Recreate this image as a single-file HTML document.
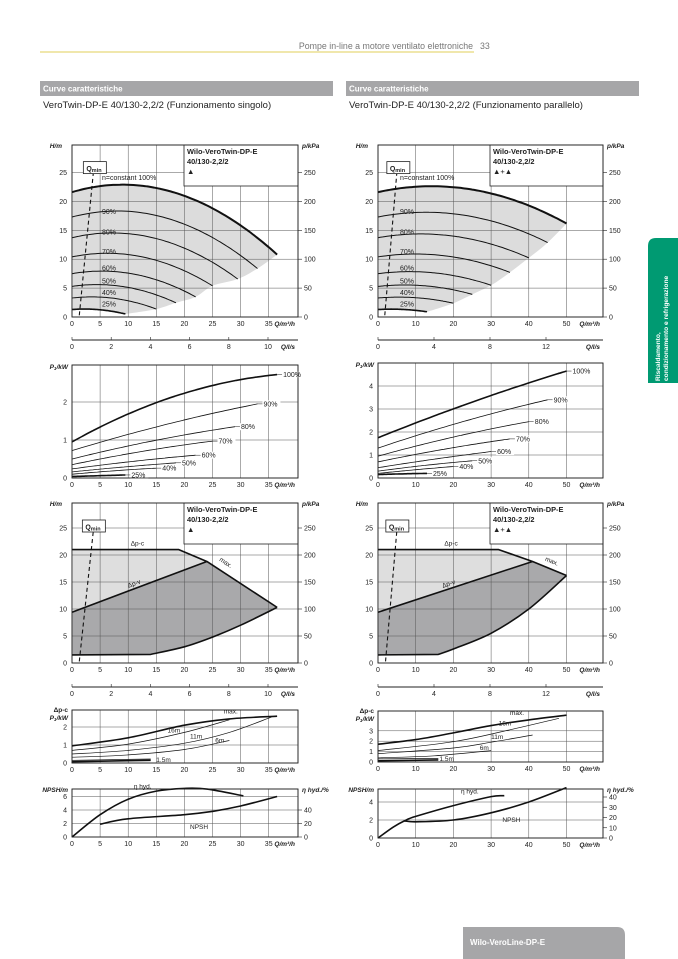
<!DOCTYPE html>
<html><head><meta charset="utf-8"><style>
html,body{margin:0;padding:0;background:#fff;width:678px;height:959px;overflow:hidden}
svg{position:absolute;left:0;top:0}
text{font-family:"Liberation Sans",sans-serif}
</style></head><body>
<svg id="s" width="678" height="959" viewBox="0 0 678 959" xmlns="http://www.w3.org/2000/svg">
<line x1="40" y1="52" x2="474" y2="52" stroke="#e2cf5a" stroke-width="1"/>
<text x="473" y="49" font-size="8.8" fill="#777" text-anchor="end">Pompe in-line a motore ventilato elettroniche</text>
<text x="480" y="49" font-size="8.8" fill="#777">33</text>
<rect x="40" y="81" width="293" height="15" fill="#a6a6a8"/>
<rect x="346" y="81" width="293" height="15" fill="#a6a6a8"/>
<text x="43" y="91.5" font-size="8" font-weight="bold" fill="#fff">Curve caratteristiche</text>
<text x="349" y="91.5" font-size="8" font-weight="bold" fill="#fff">Curve caratteristiche</text>
<text x="43" y="108" font-size="9.5" fill="#222">VeroTwin-DP-E 40/130-2,2/2 (Funzionamento singolo)</text>
<text x="349" y="108" font-size="9.5" fill="#222">VeroTwin-DP-E 40/130-2,2/2 (Funzionamento parallelo)</text>
<path d="M648 246 Q648 238 656 238 L678 238 L678 383 L648 383 Z" fill="#009a72"/>
<text transform="translate(660,381) rotate(-90)" font-size="6.6" font-weight="bold" fill="#fff">Riscaldamento,</text>
<text transform="translate(668,381) rotate(-90)" font-size="6.6" font-weight="bold" fill="#fff">condizionamento e refrigerazione</text>
<path d="M463 927 L617 927 Q625 927 625 935 L625 959 L463 959 Z" fill="#a6a6a8"/>
<text x="470" y="945" font-size="8" font-weight="bold" fill="#fff">Wilo-VeroLine-DP-E</text>
<g id="g"></g>
</svg>
<script>
var out='';
function add(s){out+=s;}
function cr(pts){
 if(pts.length<3){return 'M'+pts.map(p=>p[0].toFixed(1)+' '+p[1].toFixed(1)).join(' L');}
 var d='M'+pts[0][0].toFixed(1)+' '+pts[0][1].toFixed(1);
 for(var i=0;i<pts.length-1;i++){var p0=pts[i-1]||pts[i],p1=pts[i],p2=pts[i+1],p3=pts[i+2]||p2;
  d+=' C'+(p1[0]+(p2[0]-p0[0])/6).toFixed(1)+' '+(p1[1]+(p2[1]-p0[1])/6).toFixed(1)+' '+(p2[0]-(p3[0]-p1[0])/6).toFixed(1)+' '+(p2[1]-(p3[1]-p1[1])/6).toFixed(1)+' '+p2[0].toFixed(1)+' '+p2[1].toFixed(1);}
 return d;}
function T(x,y,s,o){o=o||{};add('<text x="'+x+'" y="'+y+'" font-size="'+(o.fs||7)+'"'+(o.a?' text-anchor="'+o.a+'"':'')+(o.b?' font-weight="bold"':'')+(o.i?' font-style="italic"':'')+' fill="#222">'+s+'</text>');}
function L(x1,y1,x2,y2,w,c,da){add('<line x1="'+x1+'" y1="'+y1+'" x2="'+x2+'" y2="'+y2+'" stroke="'+(c||'#222')+'" stroke-width="'+(w||0.6)+'"'+(da?' stroke-dasharray="'+da+'"':'')+'/>');}
function P(d,w,fill,c,da){add('<path d="'+d+'" fill="'+(fill||'none')+'" stroke="'+(c||'#111')+'" stroke-width="'+(w||0.8)+'"'+(da?' stroke-dasharray="'+da+'"':'')+' stroke-linejoin="round"/>');}
function frame(o){
 var X=q=>o.x0+q*o.sx, Y=v=>o.y0-v*o.sy;
 add('<rect x="'+o.x0+'" y="'+o.top+'" width="'+(o.xr-o.x0)+'" height="'+(o.y0-o.top)+'" fill="#fff" stroke="#222" stroke-width="0.8"/>');
 return {X:X,Y:Y};
}
function grid(o,f){
 o.xt.forEach(q=>{if(q>0)L(f.X(q),o.top,f.X(q),o.y0,0.5,'#555');});
 o.yt.forEach(v=>{if(v>0)L(o.x0,f.Y(v),o.xr,f.Y(v),0.5,'#555');});
}
function axes(o,f){
 add('<rect x="'+o.x0+'" y="'+o.top+'" width="'+(o.xr-o.x0)+'" height="'+(o.y0-o.top)+'" fill="none" stroke="#222" stroke-width="0.8"/>');
 o.xt.forEach(q=>T(f.X(q),o.y0+9,q,{a:'middle'}));
 o.yt.forEach(v=>T(o.x0-5,f.Y(v)+2.5,v,{a:'end'}));
 T(o.xr-3,o.y0+9,'Q/m³/h',{a:'end',b:1,i:1,fs:6.5});
}
function rightAxis(o,vals,Yr){
 vals.forEach(v=>{L(o.xr,Yr(v),o.xr+4,Yr(v),0.6);T(o.xr+6,Yr(v)+2.5,v);});
}
function H(a,b,c,s,q,m){return a*s*s+b*s*(q/m)-c*(q/m)*(q/m);}
function pumpChart(o){
 var f=frame(o);
 var sp=o.sp, ends=o.ends, m=o.m;
 var top=[];for(var i=0;i<=30;i++){var q=ends[0]*i/30;top.push([f.X(q),f.Y(H(21.6,0.288,o.c,1,q,m))]);}
 var lo=[];for(var k=0;k<sp.length;k++){lo.push([f.X(ends[k]),f.Y(H(21.6,0.288,o.c,sp[k],ends[k],m))]);}
 lo.reverse();
 var last=sp.length-1, bot=[];for(var i=10;i>=0;i--){var q=ends[last]*i/10;bot.push([f.X(q),f.Y(H(21.6,0.288,o.c,sp[last],q,m))]);}
 var d=cr(top)+' L'+cr(lo).slice(1)+' L'+cr(bot).slice(1)+' Z';
 add('<path d="'+d+'" fill="#dcdcdc" stroke="none"/>');
 grid(o,f);
 add('<rect x="'+o.lb+'" y="'+o.top+'" width="'+(o.xr-o.lb)+'" height="41" fill="#fff" stroke="#222" stroke-width="0.8"/>');
 T(o.lb+3,o.top+9,'Wilo-VeroTwin-DP-E',{b:1,fs:7.4});T(o.lb+3,o.top+19,'40/130-2,2/2',{b:1,fs:7.4});
 T(o.lb+3,o.top+29,o.sym,{fs:7.5});
 var labs=['90%','80%','70%','60%','50%','40%','25%'];
 sp.forEach((s,k)=>{var pts=[];for(var i=0;i<=30;i++){var q=ends[k]*i/30;pts.push([f.X(q),f.Y(H(21.6,0.288,o.c,s,q,m))]);}
  P(cr(pts),k==0?2:(k==sp.length-1?1.6:1.0));
  if(k>0){var y=f.Y(H(21.6,0.288,o.c,s,0,m));T(o.x0+o.lx,y-3,labs[k-1]);}
 });
 T(o.x0+o.lx,f.Y(22.8)-5,'n=constant 100%');
 L(f.X(o.qm[0]),f.Y(0.3),f.X(o.qm[1]),f.Y(25),1.1,'#111','4,3');
 add('<rect x="'+(f.X(o.qm[1])-10)+'" y="'+(f.Y(25.5)-8)+'" width="23" height="12" fill="#fff" stroke="#222" stroke-width="0.8"/>');
 T(f.X(o.qm[1])-7,f.Y(25.5)+1.5,'Q<tspan font-size="5.5" dy="1">min</tspan>',{b:1,fs:7});
 axes(o,f);
 rightAxis(o,[0,50,100,150,200,250],v=>f.Y(v/10));
 T(o.x0-10,o.top+3,'H/m',{a:'end',b:1,i:1,fs:6.5});T(o.xr+4,o.top+3,'p/kPa',{b:1,i:1,fs:6.5});
 return f;
}
function lsAxis(o,y,vals,scale,lab){
 L(o.x0,y,o.xr,y,0.9);
 vals.forEach(v=>{var x=o.x0+v*scale;L(x,y-3,x,y,0.6);T(x,y+9,v,{a:'middle'});});
 T(o.xr-3,y+9,'Q/l/s',{a:'end',b:1,i:1,fs:6.5});
}
function q3(p0,pm,p1,qe){return function(q){var t=q/qe;return p0*(1-t)*(1-2*t)+pm*4*t*(1-t)+p1*t*(2*t-1);};}
function powChart(o,cs){
 var f=frame(o);grid(o,f);
 cs.forEach((c,k)=>{var fn=q3(c[0],c[1],c[2],c[3]),pts=[];for(var i=0;i<=20;i++){var q=c[3]*i/20;pts.push([f.X(q),f.Y(fn(q))]);}
  P(cr(pts),k==0?1.6:(k==cs.length-1?1.6:0.8));
  var ex=f.X(c[3]),ey=f.Y(c[2]);L(ex,ey,ex+5,ey,0.5);add('<rect x="'+(ex+5)+'" y="'+(ey-3.5)+'" width="18" height="7" fill="#fff"/>');T(ex+6,ey+2.5,c[4]);});
 axes(o,f);
 T(o.x0-4,o.top+4,'P<tspan font-size="4.5" dy="1">1</tspan><tspan dy="-1">/kW</tspan>',{a:'end',b:1,i:1,fs:6.5});
}
function regChart(o,r){
 var f=frame(o);
 var pt=a=>[f.X(a[0]),f.Y(a[1])];
 var light=[[0,21],[r.c,21],[r.m,18.8],[0,9.4]].map(pt);
 add('<path d="M'+light.map(p=>p.join(' ')).join(' L')+' Z" fill="#dedede"/>');
 var lower=r.lo.map(pt);
 var dark='M'+pt([0,9.4]).join(' ')+' L'+pt([r.m,18.8]).join(' ')+' L'+pt([r.e,r.eh]).join(' ')+' L'+cr(lower.slice().reverse()).slice(1)+' L'+pt([0,1.5]).join(' ')+' Z';
 add('<path d="'+dark+'" fill="#a9a9ab"/>');
 grid(o,f);
 add('<rect x="'+o.lb+'" y="'+o.top+'" width="'+(o.xr-o.lb)+'" height="41" fill="#fff" stroke="#222" stroke-width="0.8"/>');
 T(o.lb+3,o.top+9,'Wilo-VeroTwin-DP-E',{b:1,fs:7.4});T(o.lb+3,o.top+19,'40/130-2,2/2',{b:1,fs:7.4});T(o.lb+3,o.top+29,o.sym,{fs:7.5});
 P('M'+[[0,21],[r.c,21],[r.m,18.8],[r.e,r.eh]].map(pt).map(p=>p.join(' ')).join(' L'),1.6);
 P('M'+[[0,9.4],[r.m,18.8]].map(pt).map(p=>p.join(' ')).join(' L'),1.6);
 P('M'+pt([0,1.5]).join(' ')+' L'+cr(lower).slice(1),1.6);
 T(f.X(r.c*0.55),f.Y(21)-4,'Δp-c',{fs:6.5});
 var a=Math.atan2(f.Y(18.8)-f.Y(9.4),f.X(r.m)-f.X(0))*180/Math.PI;
 add('<text transform="translate('+f.X(r.m*0.42)+','+(f.Y(9.4+9.4*0.42)-3)+') rotate('+a.toFixed(1)+')" font-size="6.5" fill="#222">Δp-v</text>');
 var b=Math.atan2(f.Y(r.eh)-f.Y(18.8),f.X(r.e)-f.X(r.m))*180/Math.PI;
 add('<text transform="translate('+(f.X(r.m)+12)+','+(f.Y(18.8)-1)+') rotate('+b.toFixed(1)+')" font-size="6.5" fill="#222">max.</text>');
 L(f.X(r.qm[0]),f.Y(0.3),f.X(r.qm[1]),f.Y(24.5),1.1,'#111','4,3');
 add('<rect x="'+(f.X(r.qm[1])-11)+'" y="'+(f.Y(25)-8)+'" width="23" height="12" fill="#fff" stroke="#222" stroke-width="0.8"/>');
 T(f.X(r.qm[1])-8,f.Y(25)+1.5,'Q<tspan font-size="5.5" dy="1">min</tspan>',{b:1,fs:7});
 axes(o,f);
 rightAxis(o,[0,50,100,150,200,250],v=>f.Y(v/10));
 T(o.x0-10,o.top+3,'H/m',{a:'end',b:1,i:1,fs:6.5});T(o.xr+4,o.top+3,'p/kPa',{b:1,i:1,fs:6.5});
}
function dpChart(o,cs){
 var f=frame(o);grid(o,f);
 cs.forEach(c=>{P(cr(c.p.map(a=>[f.X(a[0]),f.Y(a[1])])),c.w);
  if(c.l){T(f.X(c.l[0]),f.Y(c.l[1]),c.t,{fs:6.5});}});
 axes(o,f);
 T(o.x0-4,o.top+2,'Δp-c',{a:'end',b:1,fs:6.5});
 T(o.x0-4,o.top+10,'P<tspan font-size="4.5" dy="1">1</tspan><tspan dy="-1">/kW</tspan>',{a:'end',b:1,i:1,fs:6.5});
}
function npChart(o,eta,np,etaVals,Ye,ex,nx){
 var f=frame(o);grid(o,f);
 P(cr(eta.map(a=>[f.X(a[0]),f.Y(a[1])])),1.6);
 P(cr(np.map(a=>[f.X(a[0]),f.Y(a[1])])),1.6);
 T(f.X(ex[0]),f.Y(ex[1]),'η hyd.',{fs:6.5});T(f.X(nx[0]),f.Y(nx[1]),'NPSH',{fs:6.5});
 axes(o,f);
 etaVals.forEach(v=>{L(o.xr,Ye(v),o.xr+4,Ye(v),0.6);T(o.xr+6,Ye(v)+2.5,v);});
 T(o.x0-4,o.top+3,'NPSH/m',{a:'end',b:1,i:1,fs:6.5});
 T(o.xr+4,o.top+3,'η hyd./%',{b:1,i:1,fs:6.5});
}
var sp=[1,0.895,0.797,0.694,0.589,0.495,0.39,0.245];
var L1={x0:72,xr:298,sx:5.62,top:145,y0:317,sy:5.78,xt:[0,5,10,15,20,25,30,35],yt:[0,5,10,15,20,25],lb:184,lx:30,sym:'▲'};
pumpChart(Object.assign({},L1,{sp:sp,ends:[36.5,33,29.5,25,22,18.5,15,9.5],m:1,c:0.016,qm:[1.3,3.8]}));
lsAxis(L1,340,[0,2,4,6,8,10],19.6);
var L2={x0:72,xr:298,sx:5.62,top:365,y0:478,sy:38,xt:[0,5,10,15,20,25,30,35],yt:[0,1,2]};
powChart(L2,[[0.95,2.15,2.72,36.5,'100%'],[0.72,1.4,1.95,33,'90%'],[0.5,0.98,1.35,29,'80%'],[0.35,0.7,0.97,25,'70%'],[0.24,0.44,0.6,22,'60%'],[0.16,0.29,0.4,18.5,'50%'],[0.1,0.19,0.26,15,'40%'],[0.04,0.06,0.08,9.5,'25%']]);
var L3={x0:72,xr:298,sx:5.62,top:503,y0:663,sy:5.4,xt:[0,5,10,15,20,25,30,35],yt:[0,5,10,15,20,25],lb:184,sym:'▲'};
regChart(L3,{c:19,m:24,e:36.5,eh:10.3,lo:[[14,1.6],[20,3],[25,4.8],[30,7],[36.5,10.3]],qm:[1.3,3.8]});
lsAxis(L3,687,[0,2,4,6,8,10],19.6);
var L4={x0:72,xr:298,sx:5.62,top:710,y0:763,sy:18,xt:[0,5,10,15,20,25,30,35],yt:[0,1,2]};
dpChart(L4,[{p:[[0,0.95],[10,1.4],[20,2.1],[28,2.45],[36.5,2.6]],w:1.6,l:[27,2.75],t:'max.'},
 {p:[[0,0.7],[10,1.05],[20,1.7],[28,2.4]],w:0.7,l:[17,1.7],t:'16m'},
 {p:[[0,0.5],[10,0.7],[20,1.1],[28,1.7],[35.5,2.55]],w:0.7,l:[21,1.35],t:'11m'},
 {p:[[0,0.32],[10,0.45],[20,0.75],[28,1.25]],w:0.7,l:[25.5,1.15],t:'6m'},
 {p:[[0,0.15],[14,0.22]],w:0.7},{p:[[0,0.07],[14,0.15]],w:1.6,l:[15,0.05],t:'1.5m'}]);
var L5={x0:72,xr:298,sx:5.62,top:789,y0:837,sy:6.75,xt:[0,5,10,15,20,25,30,35],yt:[0,2,4,6]};
npChart(L5,[[0,0],[5,3.3],[10,5.6],[15,6.8],[20,7.2],[24,7.1],[30.5,6.1]],[[5,1.9],[10,2.7],[20,3.3],[25,3.8],[30,4.6],[36.5,6.0]],[0,20,40],v=>837-v*0.675,[11,7.2],[21,1.2]);
var R1={x0:378,xr:603,sx:3.77,top:145,y0:317,sy:5.78,xt:[0,10,20,30,40,50],yt:[0,5,10,15,20,25],lb:490,lx:22,sym:'▲+▲'};
pumpChart(Object.assign({},R1,{sp:sp,ends:[50,45,40,35,30,25,20,13],m:2,c:0.0202,qm:[1.8,5]}));
lsAxis(R1,340,[0,4,8,12],14.0);
var R2={x0:378,xr:603,sx:3.77,top:363,y0:478,sy:23,xt:[0,10,20,30,40,50],yt:[0,1,2,3,4]};
powChart(R2,[[1.75,3.3,4.65,50,'100%'],[1.3,2.45,3.4,45,'90%'],[0.95,1.78,2.45,40,'80%'],[0.7,1.25,1.7,35,'70%'],[0.45,0.82,1.15,30,'60%'],[0.3,0.55,0.75,25,'50%'],[0.2,0.36,0.5,20,'40%'],[0.15,0.18,0.2,13,'25%']]);
var R3={x0:378,xr:603,sx:3.77,top:503,y0:663,sy:5.4,xt:[0,10,20,30,40,50],yt:[0,5,10,15,20,25],lb:490,sym:'▲+▲'};
regChart(R3,{c:32,m:41,e:50,eh:16.2,lo:[[16,1.6],[20,2.6],[30,5.5],[40,10],[50,16.2]],qm:[2,5]});
lsAxis(R3,687,[0,4,8,12],14.0);
var R4={x0:378,xr:603,sx:3.77,top:711,y0:762,sy:10.4,xt:[0,10,20,30,40,50],yt:[0,1,2,3]};
dpChart(R4,[{p:[[0,1.7],[10,2.15],[20,2.8],[30,3.5],[40,4.05],[50,4.5]],w:1.6,l:[35,4.5],t:'max.'},
 {p:[[0,1.1],[20,1.95],[35,3.1],[48,4.2]],w:0.7,l:[32,3.5],t:'16m'},
 {p:[[0,0.8],[20,1.35],[30,1.9],[41,2.6]],w:0.7,l:[30,2.2],t:'11m'},
 {p:[[0,0.4],[15,0.6],[30,1.1]],w:0.7,l:[27,1.15],t:'6m'},
 {p:[[0,0.3],[16,0.35]],w:0.7},{p:[[0,0.12],[16,0.2]],w:1.6,l:[16.3,0.1],t:'1.5m'}]);
var R5={x0:378,xr:603,sx:3.77,top:789,y0:838,sy:9,xt:[0,10,20,30,40,50],yt:[0,2,4]};
npChart(R5,[[0,0],[4,1.2],[7,1.9],[10,2.4],[20,3.6],[30,4.6],[33.5,4.7]],[[7,1.9],[10,1.8],[20,2.0],[30,2.8],[40,4.0],[50,5.6]],[0,10,20,30,40],v=>838-v*1.025,[22,4.95],[33,1.8]);
document.getElementById('g').innerHTML=out;
</script>
</body></html>
